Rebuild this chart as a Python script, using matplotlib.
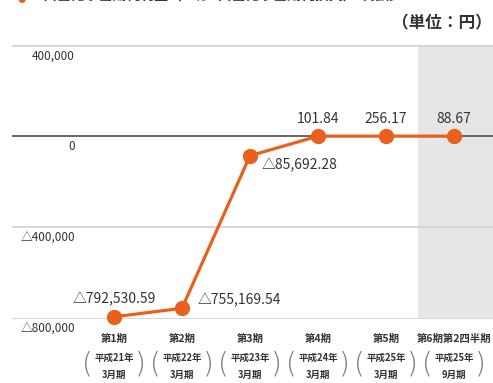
import matplotlib.pyplot as plt

plt.rcParams['font.family'] = ['Noto Sans CJK JP', 'DejaVu Sans']

# DATA
periods = ["第1期", "第2期", "第3期", "第4期", "第5期", "第6期第2四半期"]
fiscal_years = ["平成21年", "平成22年", "平成23年", "平成24年", "平成25年", "平成25年"]
fiscal_months = ["3月期", "3月期", "3月期", "3月期", "3月期", "9月期"]
values = [-792530.59, -755169.54, -85692.28, 101.84, 256.17, 88.67]
y_ticks = [400000, 0, -400000, -800000]

ORANGE = "#e8601c"
TEXT = "#333333"


def fmt(v):
    s = f"{abs(v):,.2f}"
    return ("△" + s) if v < 0 else s


def fmt_tick(v):
    s = f"{abs(v):,.0f}"
    return ("△" + s) if v < 0 else s


fig = plt.figure(figsize=(4.93, 3.83), dpi=100)
ax = fig.add_axes([12 / 493, 64.5 / 383, 481 / 493, 273.5 / 383])

x = list(range(len(values)))
ax.set_xlim(-1.5, 5.574)
ax.set_ylim(-800000, 400000)

# shaded column for the interim period
ax.axvspan(4.47, 5.574, color="#e6e6e6", zorder=0, lw=0)

# gridlines + y labels sitting under each line
for t in y_ticks:
    if t == 0:
        ax.axhline(t, color="#5a5a5a", lw=1.3, zorder=1)
    else:
        ax.axhline(t, color="#d6d6d6", lw=2.0 if t == 400000 else 1.4, zorder=1)
    ax.annotate(fmt_tick(t), xy=(0.131, t), xycoords=ax.get_yaxis_transform(),
                xytext=(0, -3), textcoords="offset points",
                ha="right", va="top", fontsize=8.5, color=TEXT,
                annotation_clip=False)

# line + markers
ax.plot(x, values, color=ORANGE, lw=2.3, marker="o", markersize=10,
        zorder=3, clip_on=False)

# value labels
offsets = [(0, 13, "center"), (11, 6, "left"), (8, -7, "left"),
           (0, 12, "center"), (0, 12, "center"), (0, 12, "center")]
for xi, v, (dx, dy, ha) in zip(x, values, offsets):
    ax.annotate(fmt(v), xy=(xi, v), xytext=(dx, dy), textcoords="offset points",
                ha=ha, va="center", fontsize=10, color=TEXT, zorder=4)

# category labels
for xi, p, fy, fm in zip(x, periods, fiscal_years, fiscal_months):
    ax.annotate(p, xy=(xi, -800000), xytext=(0, -15), textcoords="offset points",
                ha="center", va="center", fontsize=7.5, fontweight="bold",
                color=TEXT, annotation_clip=False)
    ax.annotate(fy, xy=(xi, -800000), xytext=(0, -28), textcoords="offset points",
                ha="center", va="center", fontsize=6.8, fontweight="bold",
                color=TEXT, annotation_clip=False)
    ax.annotate(fm, xy=(xi, -800000), xytext=(0, -41), textcoords="offset points",
                ha="center", va="center", fontsize=6.8, fontweight="bold",
                color=TEXT, annotation_clip=False)
    for sx, ch in ((-19, "("), (19, ")")):
        ax.annotate(ch, xy=(xi, -800000), xytext=(sx, -33), textcoords="offset points",
                    ha="center", va="center", fontsize=20, color="#777777",
                    family="DejaVu Sans", fontweight="light", annotation_clip=False)

ax.set_axis_off()

# unit and heading
fig.text(492 / 493, 1 - 23 / 383, "（単位：円）", ha="right", va="center",
         fontsize=12, fontweight="bold", color=TEXT)
fig.text(22 / 493, 1 + 1 / 383, "●", ha="center", va="center",
         fontsize=6, color=ORANGE)
fig.text(36 / 493, 1 + 4 / 383, "1口当たり当期純利益（△は1口当たり当期純損失）の推移",
         ha="left", va="center", fontsize=10, fontweight="bold", color=TEXT)

fig.savefig("out.png", dpi=100)
